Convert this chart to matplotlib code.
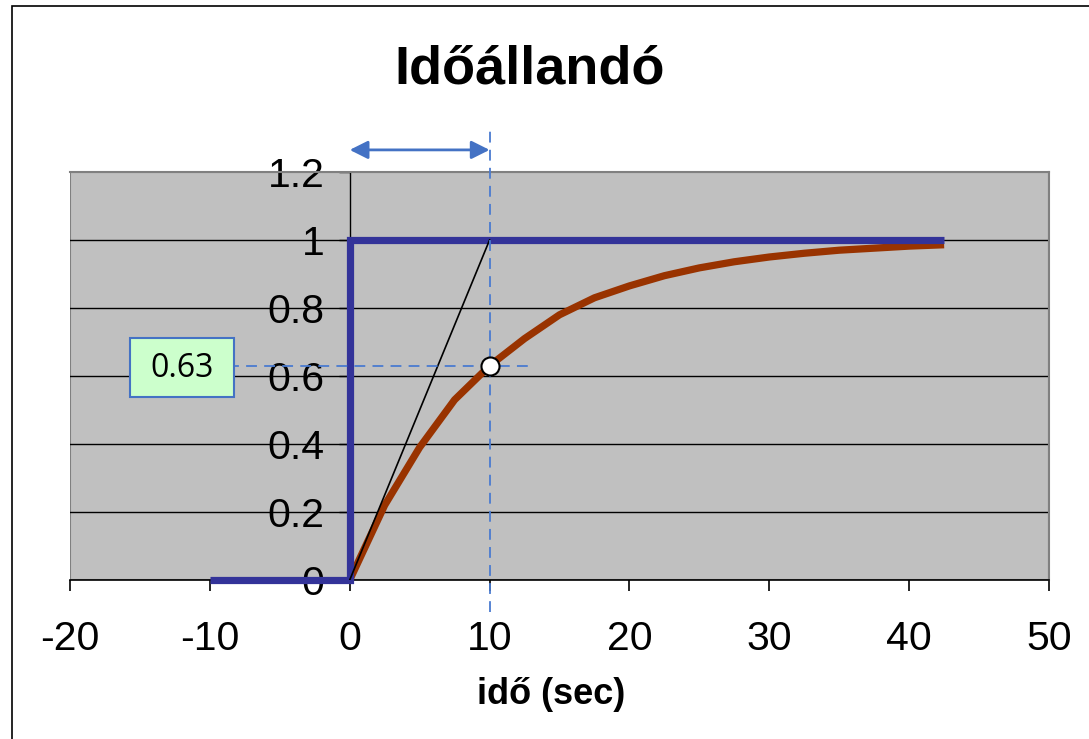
import matplotlib
matplotlib.use("Agg")
import matplotlib.pyplot as plt
from matplotlib.patches import Rectangle

# Data
step_t = [-10, -7.5, -5, -2.5, 0, 0, 2.5, 5, 7.5, 10, 12.5, 15, 17.5, 20, 22.5, 25,
          27.5, 30, 32.5, 35, 37.5, 40, 42.5]
step_y = [0, 0, 0, 0, 0, 1, 1, 1, 1, 1, 1, 1, 1, 1, 1, 1, 1, 1, 1, 1, 1, 1, 1]
resp_t = [0, 2.5, 5, 7.5, 10, 12.5, 15, 17.5, 20, 22.5, 25,
          27.5, 30, 32.5, 35, 37.5, 40, 42.5]
resp_y = [0, 0.22, 0.39, 0.53, 0.63, 0.71, 0.78, 0.83, 0.865, 0.895, 0.918,
          0.936, 0.95, 0.961, 0.97, 0.976, 0.982, 0.986]
tangent_t = [0, 10]
tangent_y = [0, 1]
tau = 10
tau_value = 0.63
xticks = [-20, -10, 0, 10, 20, 30, 40, 50]
yticks = [0, 0.2, 0.4, 0.6, 0.8, 1, 1.2]
ytick_labels = ["0", "0.2", "0.4", "0.6", "0.8", "1", "1.2"]
title = "Időállandó"
xlabel = "idő (sec)"
box_label = "0.63"

W, H = 1089, 739
plt.rcParams['font.family'] = ['Liberation Sans', 'DejaVu Sans']
plt.rcParams['axes.unicode_minus'] = False
fig = plt.figure(figsize=(W / 100, H / 100), dpi=100)

# figure border (left and top only visible)
fig.patches.append(Rectangle((12 / W, -0.5), 2, 1.5 - 6 / H, transform=fig.transFigure,
                             fill=False, edgecolor='black', linewidth=1.2))

ax = fig.add_axes([70 / W, 1 - 580 / H, (1049 - 70) / W, (580 - 172) / H])
ax.set_facecolor('#C0C0C0')
ax.set_xlim(-20, 50)
ax.set_ylim(0, 1.2)

# gridlines
for y in yticks[1:-1]:
    ax.axhline(y, color='black', linewidth=1.0, zorder=1)

ax.plot(resp_t, resp_y, color='#993300', linewidth=5.2, zorder=3, clip_on=False,
        solid_capstyle='butt')
ax.plot(step_t, step_y, color='#333399', linewidth=5.2, zorder=4, clip_on=False,
        solid_capstyle='butt', solid_joinstyle='miter')
ax.plot(tangent_t, tangent_y, color='black', linewidth=1.2, zorder=5)

# dashed guides
dash_c = '#4A7BD0'
ax.plot([tau, tau], [-0.094, 1.324], color=dash_c, linewidth=1.3, linestyle=(0, (6, 4)),
        clip_on=False, zorder=6)
ax.plot([-10, 12.9], [tau_value, tau_value], color=dash_c, linewidth=1.3,
        linestyle=(0, (6, 4)), clip_on=False, zorder=6)

# double arrow
ax.annotate('', xy=(0, 1.265), xytext=(tau, 1.265), annotation_clip=False,
            arrowprops=dict(arrowstyle='<|-|>,head_length=1.1,head_width=0.55',
                            color='#4472C4', lw=2, shrinkA=0, shrinkB=0))

ax.plot([tau], [tau_value], marker='o', markersize=13, markerfacecolor='white',
        markeredgecolor='black', markeredgewidth=1.5, zorder=7, clip_on=False)

# label box
ax.add_patch(Rectangle((-15.71, 0.538), 7.42, 0.174, facecolor='#CCFFCC',
                       edgecolor='#4472C4', linewidth=1.5, zorder=8))
ax.text(-12.0, 0.622, box_label, fontsize=23, family=['Open Sans', 'DejaVu Sans'],
        ha='center', va='center', zorder=9)

# spines
for s in ['top', 'right']:
    ax.spines[s].set_color('#808080')
    ax.spines[s].set_linewidth(1.5)
ax.spines['bottom'].set_color('black')
ax.spines['bottom'].set_linewidth(1.2)
ax.spines['left'].set_position(('data', 0))
ax.spines['left'].set_color('black')
ax.spines['left'].set_linewidth(1.0)
ax.add_patch(Rectangle((0, 0), 1, 1, transform=ax.transAxes, fill=False,
                       edgecolor='#808080', linewidth=1.5, zorder=0.5))
ax.spines['left'].set_zorder(2)

ax.set_xticks(xticks)
ax.set_yticks(yticks)
ax.set_yticklabels(ytick_labels)
ax.tick_params(axis='x', direction='out', length=8, width=1.2, color='black',
               labelsize=29.5, pad=21)
ax.tick_params(axis='y', direction='out', length=8, width=1.0, color='black',
               labelsize=29.5, pad=10)

fig.text(530 / W, 1 - 70 / H, title, fontsize=39, fontweight='bold', ha='center', va='center')
fig.text(551 / W, 1 - 694 / H, xlabel, fontsize=26, fontweight='bold', ha='center', va='center')

fig.savefig('out.png', dpi=100)
